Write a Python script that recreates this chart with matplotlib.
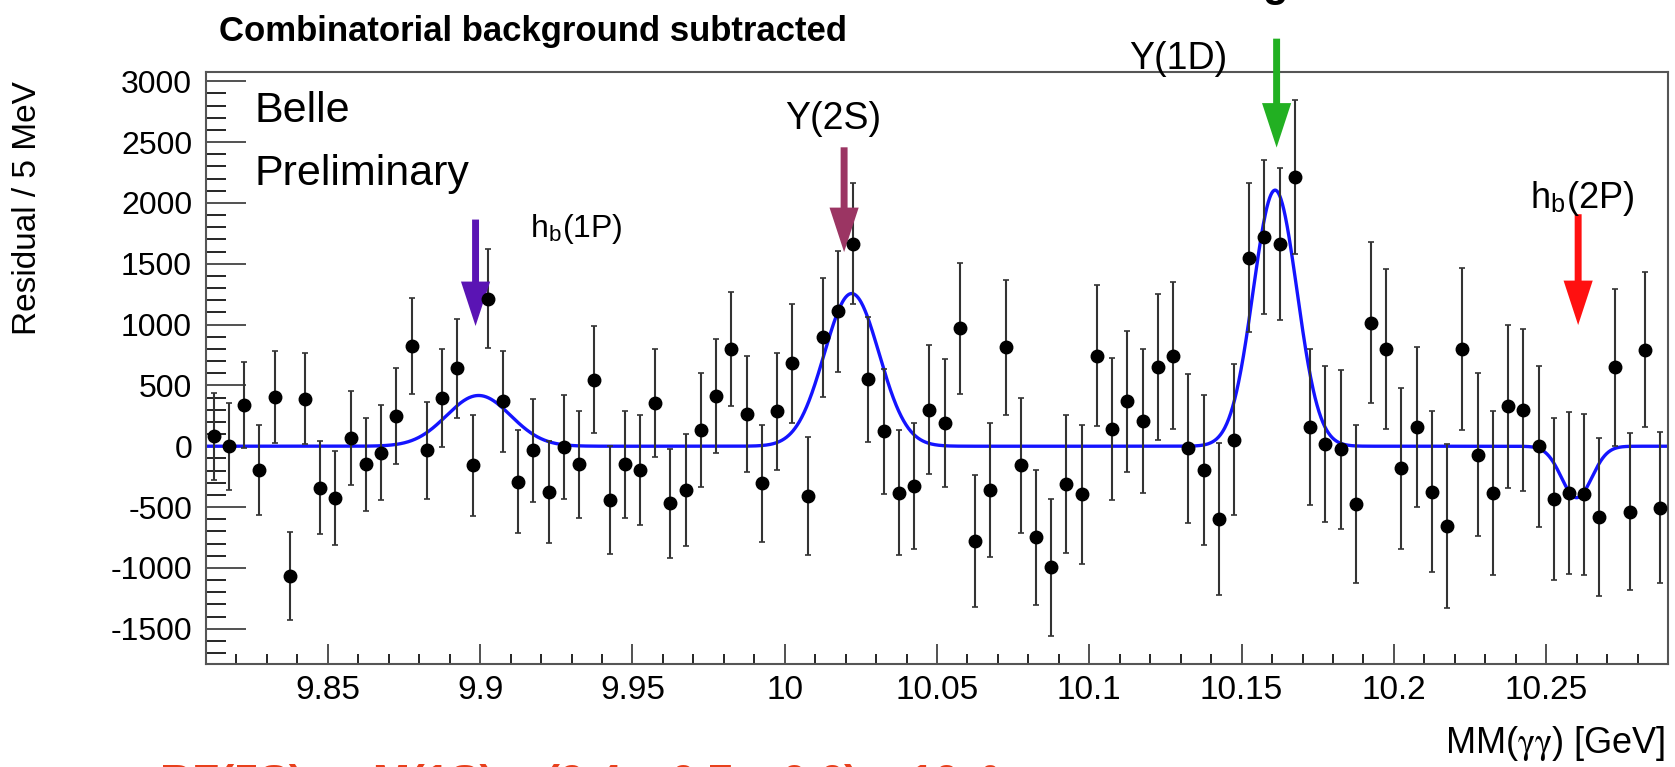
import numpy as np
import matplotlib
matplotlib.use('Agg')
import matplotlib.pyplot as plt
from matplotlib import font_manager
from matplotlib.ticker import MultipleLocator

# Histograma: 96 bins de 5 MeV entre 9.81 y 10.29 GeV
x_min, x_max = 9.81, 10.29
ancho_bin = 0.005

residual = [80, 0, 341, -196, 404, -1064, 390, -341, -423, 68,
            -150, -55, 251, 824, -35, 396, 641, -158, 1214, 368,
            -292, -35, -374, -5, -150, 546, -442, -150, -196, 355,
            -469, -360, 131, 415, 802, 265, -305, 286, 682, -409,
            895, 1110, 1665, 551, 123, -382, -327, 300, 191, 969,
            -782, -360, 813, -158, -750, -995, -313, -395, 745, 142,
            368, 205, 650, 745, -18, -196, -600, 55, 1550, 1719,
            1664, 2215, 157, 20, -25, -477, 1015, 800, -183, 159,
            -373, -655, 800, -68, -387, 327, 295, 0, -431, -382,
            -395, -581, 650, -537, 791, -504]
error = [360, 358, 355, 368, 375, 361, 375, 380, 385, 385,
         382, 390, 396, 396, 402, 405, 406, 413, 410, 416,
         423, 423, 418, 430, 436, 440, 443, 440, 450, 447,
         446, 462, 470, 468, 468, 479, 481, 481, 488, 487,
         491, 498, 500, 515, 514, 515, 515, 532, 529, 539,
         543, 548, 555, 553, 551, 563, 566, 573, 582, 582,
         582, 592, 600, 604, 610, 614, 626, 620, 610, 634,
         625, 632, 641, 641, 652, 649, 660, 655, 659, 658,
         664, 676, 668, 671, 675, 672, 666, 663, 665, 666,
         664, 648, 646, 642, 637, 622]
masa = x_min + ancho_bin * (np.arange(len(residual)) + 0.5)

# Picos del ajuste (media, altura, sigma)
pico_media = [9.8995, 10.022, 10.161, 10.260]
pico_altura = [417, 1255, 2105, -423]
pico_sigma = [0.0105, 0.009, 0.0072, 0.005]

# Etiquetas y flechas de los estados
etiquetas = [r'h$_\mathregular{b}$(1P)', 'Υ(2S)', 'Υ(1D)', r'h$_\mathregular{b}$(2P)']
etiqueta_x = [9.9164, 10.0, 10.113, 10.2447]
etiqueta_y = [1716, 2608, 3099, 1962]
etiqueta_tam = [23, 27, 27, 26]
flecha_x = [9.8985, 10.0195, 10.1615, 10.2605]
flecha_ini = [1863, 2457, 3350, 1907]
flecha_fin = [988, 1596, 2455, 996]
flecha_color = ['#5a14b4', '#9b3563', '#22b022', '#ff1010']

nombres = {f.name for f in font_manager.fontManager.ttflist}
fuente_estrecha = 'Liberation Sans Narrow' if 'Liberation Sans Narrow' in nombres else 'Liberation Sans'
plt.rcParams['font.family'] = ['Liberation Sans', 'DejaVu Sans']
plt.rcParams['axes.unicode_minus'] = False
plt.rcParams['mathtext.fontset'] = 'stix'

fig = plt.figure(figsize=(16.75, 7.67), dpi=100)
ax = fig.add_axes([206 / 1675, 1 - 664 / 767, 1462 / 1675, 592 / 767])

# Curva del ajuste
xs = np.linspace(x_min, x_max, 3000)
ys = np.zeros_like(xs)
for m, h, s in zip(pico_media, pico_altura, pico_sigma):
    ys += h * np.exp(-0.5 * ((xs - m) / s) ** 2)
ax.plot(xs, ys, color='#1414ff', lw=2.4, zorder=2)

# Puntos con barras de error
ax.errorbar(masa, residual, yerr=error, fmt='o', color='black', ms=9,
            ecolor='#333333', elinewidth=1.5, capsize=2.5, capthick=1.2, zorder=3)

# Flechas y etiquetas
for x, y0, y1, c in zip(flecha_x, flecha_ini, flecha_fin, flecha_color):
    ax.annotate('', xy=(x, y1), xytext=(x, y0), annotation_clip=False,
                arrowprops=dict(arrowstyle='simple,head_length=32,head_width=21,tail_width=5',
                                mutation_scale=1, color=c, lw=0, shrinkA=0, shrinkB=0,
                                clip_on=False))
for t, x, y, tam in zip(etiquetas, etiqueta_x, etiqueta_y, etiqueta_tam):
    ax.text(x, y, t, fontsize=tam, family=fuente_estrecha, ha='left', va='baseline',
            clip_on=False)

ax.set_xlim(x_min, x_max)
ax.set_ylim(-1790, 3076)
ax.xaxis.set_major_locator(MultipleLocator(0.05))
ax.xaxis.set_minor_locator(MultipleLocator(0.01))
ax.yaxis.set_major_locator(MultipleLocator(500))
ax.yaxis.set_minor_locator(MultipleLocator(100))
ax.xaxis.set_major_formatter(plt.FuncFormatter(lambda v, p: f'{v:.2f}'.rstrip('0').rstrip('.')))
ax.tick_params(axis='x', which='major', direction='in', length=14.4, width=1.2, labelsize=24, pad=8)
ax.tick_params(axis='x', which='minor', direction='in', length=7.2, width=1.2)
ax.tick_params(axis='y', which='major', direction='in', length=28.8, width=1.2, labelsize=23, pad=10)
ax.tick_params(axis='y', which='minor', direction='in', length=14.4, width=1.2)
ax.tick_params(colors='#333333', labelcolor='black')
for sp in ax.spines.values():
    sp.set_color('#555555')
    sp.set_linewidth(1.5)

# Textos
fig.text(219 / 1675, 1 - 41 / 767, 'Combinatorial background subtracted', fontsize=25,
         weight='bold', family=fuente_estrecha, va='baseline')
fig.text(1275 / 1675, 1 + 4 / 767, 'g', fontsize=30, weight='bold', ha='center', va='baseline')
fig.text(254 / 1675, 1 - 122 / 767, 'Belle', fontsize=31, family=fuente_estrecha, va='baseline')
fig.text(254 / 1675, 1 - 185 / 767, 'Preliminary', fontsize=31, family=fuente_estrecha,
         va='baseline')
fig.text(28 / 1675, 1 - 208 / 767, 'Residual / 5 MeV', fontsize=24, rotation=90,
         ha='center', va='center')
fig.text(1665 / 1675, 1 - 753 / 767, r'MM($\mathrm{\gamma\gamma}$) [GeV]', fontsize=26,
         ha='right', va='baseline')
# Línea roja cortada en el borde inferior
fig.text(160 / 1675, 1 - 796 / 767, 'BF(5S) → M(1S) = (9.4 ± 0.7 ± 0.6) × 10⁻³',
         fontsize=32, weight='bold', color='#e8401c', va='baseline')

fig.savefig('out.png', dpi=100)
